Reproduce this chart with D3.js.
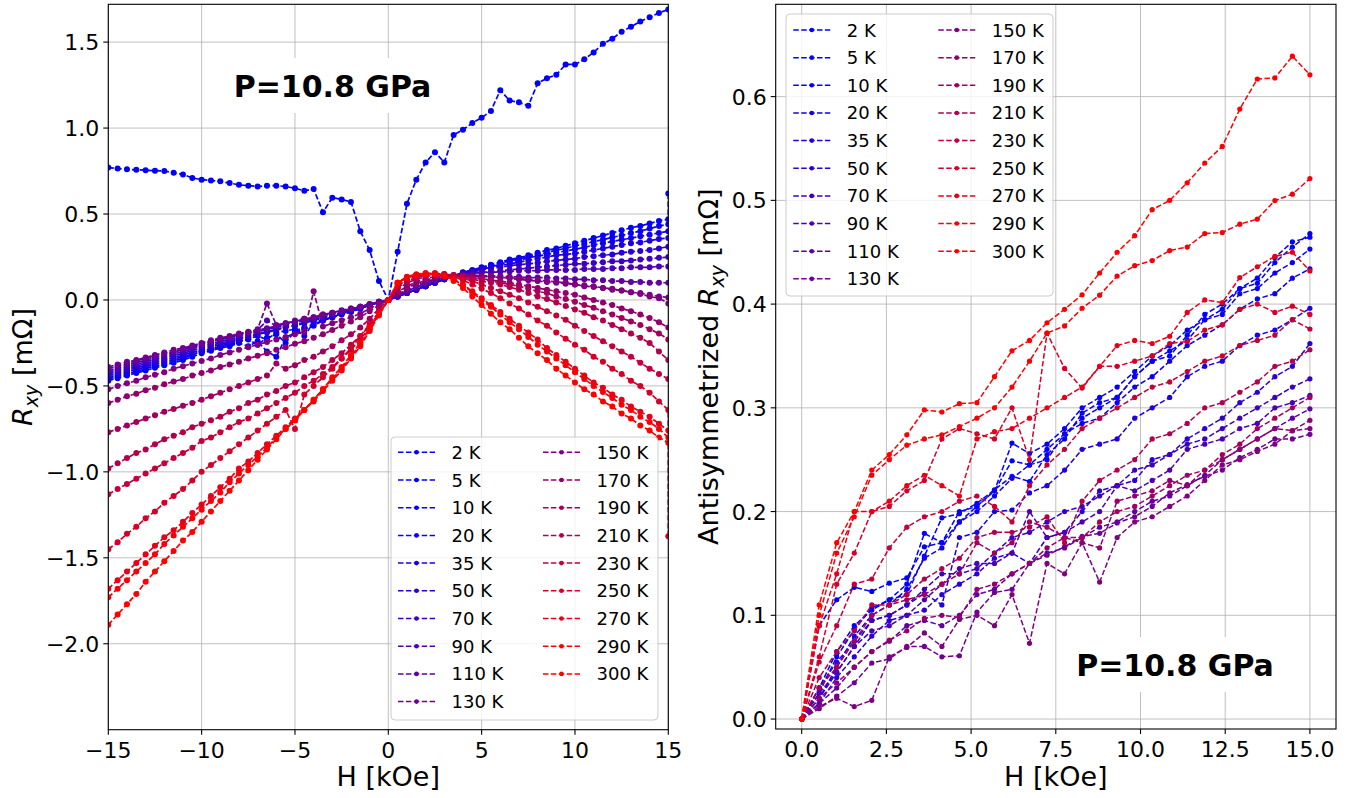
<!DOCTYPE html>
<html>
<head>
<meta charset="utf-8">
<script src="https://cdn.jsdelivr.net/npm/d3@7/dist/d3.min.js"></script>
<style>
  body { margin: 0; background: #fff; }
  svg { font-family: "DejaVu Sans", sans-serif; }
</style>
</head>
<body>
<div id="stage"></div>
<script>
// temperatures (K), one curve each
const temps = [2, 5, 10, 20, 35, 50, 70, 90, 110, 130, 150, 170, 190, 210, 230, 250, 270, 290, 300];

// left panel: field sweep H (kOe)
const fieldLeft = [-15,-14.5,-14,-13.5,-13,-12.5,-12,-11.5,-11,-10.5,-10,-9.5,-9,-8.5,-8,-7.5,-7,-6.5,-6,-5.5,-5,-4.5,-4,-3.5,-3,-2.5,-2,-1.5,-1,-0.5,
  0,0.5,1,1.5,2,2.5,3,3.5,4,4.5,5,5.5,6,6.5,7,7.5,8,8.5,9,9.5,10,10.5,11,11.5,12,12.5,13,13.5,14,14.5,15];

// R_xy (mOhm)
const rxy_2K = [0.77,0.765,0.76,0.757,0.755,0.752,0.75,0.74,0.73,0.71,0.70,0.695,0.69,0.68,0.67,0.665,0.66,0.665,0.665,0.66,0.65,0.635,0.645,0.51,0.595,0.585,0.57,0.40,0.29,0.11,
  0.0,0.28,0.56,0.70,0.80,0.86,0.80,0.96,0.99,1.03,1.06,1.10,1.22,1.16,1.15,1.13,1.26,1.29,1.31,1.37,1.37,1.40,1.44,1.49,1.52,1.56,1.59,1.62,1.645,1.67,1.69];
const rxy_5K = [-0.47,-0.455,-0.44,-0.425,-0.41,-0.395,-0.38,-0.365,-0.35,-0.33,-0.31,-0.295,-0.28,-0.27,-0.25,-0.27,-0.24,-0.30,-0.33,-0.22,-0.19,-0.17,-0.15,-0.12,-0.10,-0.085,-0.07,-0.05,-0.03,-0.015,
  0,0.02,0.04,0.06,0.08,0.10,0.12,0.14,0.16,0.175,0.19,0.205,0.22,0.235,0.245,0.26,0.275,0.29,0.30,0.315,0.33,0.345,0.36,0.375,0.39,0.405,0.42,0.43,0.445,0.46,0.47];
const rxy_10K = [-0.46,-0.445,-0.43,-0.415,-0.40,-0.385,-0.37,-0.355,-0.34,-0.32,-0.30,-0.285,-0.275,-0.26,-0.245,-0.23,-0.26,-0.22,-0.20,-0.25,-0.18,-0.16,-0.14,-0.12,-0.10,-0.08,-0.065,-0.05,-0.03,-0.015,
  0,0.02,0.04,0.06,0.08,0.10,0.12,0.14,0.16,0.17,0.185,0.20,0.215,0.225,0.24,0.25,0.265,0.275,0.29,0.30,0.315,0.325,0.34,0.35,0.365,0.375,0.39,0.40,0.415,0.43,0.44];
const rxy_20K = [-0.45,-0.435,-0.42,-0.405,-0.39,-0.375,-0.36,-0.345,-0.33,-0.315,-0.30,-0.285,-0.27,-0.25,-0.24,-0.225,-0.21,-0.23,-0.19,-0.18,-0.17,-0.21,-0.13,-0.115,-0.10,-0.08,-0.065,-0.05,-0.03,-0.015,
  0,0.02,0.04,0.06,0.08,0.10,0.12,0.14,0.16,0.17,0.18,0.19,0.21,0.22,0.23,0.245,0.255,0.265,0.275,0.285,0.295,0.305,0.32,0.33,0.34,0.35,0.36,0.37,0.38,0.39,0.40];
const rxy_35K = [-0.44,-0.425,-0.41,-0.395,-0.38,-0.365,-0.35,-0.335,-0.32,-0.305,-0.29,-0.275,-0.26,-0.245,-0.23,-0.215,-0.20,-0.19,-0.175,-0.16,-0.15,-0.135,-0.12,-0.105,-0.09,-0.075,-0.06,-0.045,-0.03,-0.015,
  0,0.02,0.04,0.06,0.08,0.10,0.12,0.14,0.155,0.165,0.175,0.19,0.20,0.21,0.22,0.23,0.24,0.25,0.26,0.265,0.27,0.28,0.29,0.30,0.31,0.32,0.33,0.335,0.345,0.355,0.36];
const rxy_50K = [-0.43,-0.415,-0.40,-0.385,-0.37,-0.355,-0.34,-0.325,-0.31,-0.295,-0.28,-0.265,-0.25,-0.24,-0.225,-0.21,-0.195,-0.185,-0.17,-0.155,-0.145,-0.13,-0.115,-0.10,-0.09,-0.075,-0.06,-0.045,-0.03,-0.015,
  0,0.02,0.04,0.06,0.08,0.10,0.12,0.14,0.155,0.165,0.175,0.185,0.19,0.20,0.205,0.21,0.215,0.225,0.23,0.235,0.24,0.25,0.255,0.26,0.265,0.275,0.28,0.285,0.29,0.30,0.31];
const rxy_70K = [-0.42,-0.405,-0.39,-0.375,-0.36,-0.345,-0.33,-0.315,-0.30,-0.285,-0.27,-0.255,-0.24,-0.23,-0.215,-0.20,-0.185,-0.17,-0.16,-0.145,-0.13,-0.12,-0.105,-0.09,-0.08,-0.065,-0.055,-0.04,-0.025,-0.01,
  0,0.025,0.045,0.07,0.09,0.11,0.13,0.14,0.15,0.155,0.16,0.165,0.17,0.175,0.18,0.185,0.19,0.195,0.20,0.205,0.21,0.21,0.215,0.22,0.225,0.225,0.23,0.235,0.24,0.245,0.25];
const rxy_90K = [-0.41,-0.395,-0.38,-0.365,-0.35,-0.335,-0.32,-0.305,-0.29,-0.275,-0.26,-0.245,-0.23,-0.22,-0.205,-0.19,-0.175,-0.12,-0.15,-0.135,-0.125,-0.11,-0.10,-0.085,-0.075,-0.06,-0.05,-0.04,-0.025,-0.01,
  0,0.025,0.05,0.075,0.095,0.115,0.13,0.14,0.15,0.155,0.16,0.16,0.165,0.165,0.17,0.17,0.17,0.175,0.175,0.175,0.175,0.18,0.18,0.18,0.185,0.185,0.19,0.19,0.19,0.195,0.195];
const rxy_110K = [-0.40,-0.385,-0.37,-0.355,-0.34,-0.325,-0.31,-0.30,-0.285,-0.27,-0.255,-0.24,-0.225,-0.215,-0.20,-0.19,-0.175,-0.165,-0.15,-0.14,-0.13,-0.115,-0.105,-0.09,-0.08,-0.065,-0.055,-0.04,-0.025,-0.01,
  0,0.03,0.055,0.08,0.10,0.12,0.135,0.14,0.145,0.145,0.14,0.14,0.14,0.135,0.135,0.13,0.13,0.13,0.125,0.125,0.12,0.12,0.115,0.115,0.11,0.11,0.105,0.105,0.10,0.10,0.10];
const rxy_130K = [-0.39,-0.375,-0.36,-0.35,-0.335,-0.32,-0.305,-0.29,-0.28,-0.265,-0.25,-0.235,-0.22,-0.21,-0.195,-0.185,-0.17,-0.02,-0.145,-0.135,-0.12,-0.11,-0.10,-0.085,-0.075,-0.065,-0.05,-0.04,-0.025,-0.01,
  0,0.03,0.06,0.085,0.105,0.12,0.135,0.14,0.14,0.14,0.135,0.135,0.13,0.125,0.12,0.115,0.11,0.105,0.10,0.095,0.09,0.08,0.075,0.07,0.06,0.055,0.045,0.04,0.03,0.02,0.015];
const rxy_150K = [-0.52,-0.50,-0.485,-0.47,-0.45,-0.435,-0.42,-0.40,-0.385,-0.37,-0.355,-0.34,-0.32,-0.305,-0.29,-0.275,-0.26,-0.245,-0.23,-0.215,-0.20,-0.185,0.05,-0.155,-0.135,-0.12,-0.10,-0.08,-0.05,-0.025,
  0,0.04,0.07,0.095,0.115,0.13,0.14,0.14,0.14,0.14,0.135,0.135,0.13,0.13,0.125,0.12,0.115,0.11,0.105,0.10,0.09,0.085,0.08,0.07,0.065,0.055,0.045,0.035,0.02,0.01,-0.02];
const rxy_170K = [-0.60,-0.58,-0.56,-0.545,-0.525,-0.51,-0.49,-0.475,-0.46,-0.44,-0.425,-0.41,-0.39,-0.375,-0.36,-0.34,-0.325,-0.31,-0.29,-0.275,-0.255,-0.24,-0.22,-0.20,-0.175,-0.15,-0.125,-0.10,-0.065,-0.03,
  0,0.045,0.08,0.105,0.125,0.135,0.14,0.14,0.135,0.13,0.125,0.115,0.11,0.10,0.09,0.08,0.07,0.06,0.05,0.04,0.03,0.015,0.0,-0.015,-0.03,-0.05,-0.065,-0.085,-0.105,-0.13,-0.16];
const rxy_190K = [-0.77,-0.75,-0.73,-0.71,-0.69,-0.67,-0.65,-0.635,-0.615,-0.60,-0.58,-0.56,-0.54,-0.52,-0.50,-0.48,-0.46,-0.44,-0.37,-0.40,-0.38,-0.35,-0.33,-0.30,-0.27,-0.235,-0.20,-0.16,-0.11,-0.05,
  0,0.06,0.10,0.12,0.135,0.145,0.15,0.145,0.14,0.13,0.12,0.11,0.10,0.09,0.08,0.065,0.05,0.04,0.02,0.005,-0.01,-0.03,-0.045,-0.065,-0.085,-0.105,-0.125,-0.145,-0.17,-0.195,-0.23];
const rxy_210K = [-0.98,-0.95,-0.92,-0.89,-0.87,-0.84,-0.81,-0.79,-0.77,-0.74,-0.72,-0.70,-0.68,-0.65,-0.63,-0.60,-0.58,-0.55,-0.53,-0.50,-0.48,-0.45,-0.42,-0.39,-0.35,-0.31,-0.26,-0.21,-0.15,-0.08,
  0,0.07,0.11,0.13,0.145,0.15,0.15,0.145,0.135,0.12,0.11,0.10,0.09,0.075,0.06,0.04,0.02,0.005,-0.015,-0.035,-0.055,-0.075,-0.10,-0.12,-0.145,-0.17,-0.195,-0.22,-0.25,-0.30,-0.35];
const rxy_230K = [-1.13,-1.10,-1.07,-1.04,-1.01,-0.98,-0.95,-0.92,-0.89,-0.86,-0.82,-0.80,-0.77,-0.74,-0.71,-0.69,-0.66,-0.63,-0.60,-0.57,-0.54,-0.50,-0.47,-0.43,-0.39,-0.34,-0.29,-0.23,-0.16,-0.08,
  0,0.08,0.12,0.14,0.15,0.155,0.15,0.14,0.125,0.11,0.09,0.07,0.05,0.03,0.01,-0.015,-0.04,-0.065,-0.09,-0.115,-0.15,-0.18,-0.21,-0.24,-0.27,-0.30,-0.33,-0.365,-0.40,-0.43,-0.46];
const rxy_250K = [-1.45,-1.41,-1.36,-1.32,-1.27,-1.23,-1.18,-1.14,-1.10,-1.05,-1.00,-0.96,-0.92,-0.88,-0.84,-0.80,-0.76,-0.72,-0.68,-0.64,-0.75,-0.55,-0.50,-0.45,-0.40,-0.34,-0.28,-0.21,-0.14,-0.07,
  0,0.09,0.13,0.145,0.155,0.155,0.15,0.135,0.115,0.09,0.065,0.04,0.01,-0.02,-0.05,-0.085,-0.12,-0.15,-0.19,-0.225,-0.26,-0.29,-0.33,-0.36,-0.40,-0.43,-0.47,-0.50,-0.54,-0.59,-0.64];
const rxy_270K = [-1.68,-1.63,-1.58,-1.53,-1.48,-1.43,-1.38,-1.34,-1.29,-1.24,-1.19,-1.14,-1.09,-1.04,-0.98,-0.94,-0.89,-0.84,-0.79,-0.74,-0.69,-0.64,-0.58,-0.52,-0.46,-0.40,-0.33,-0.26,-0.17,-0.08,
  0,0.10,0.13,0.145,0.15,0.15,0.14,0.12,0.09,0.05,0.01,-0.03,-0.07,-0.11,-0.15,-0.19,-0.23,-0.28,-0.32,-0.36,-0.40,-0.44,-0.48,-0.51,-0.55,-0.58,-0.62,-0.65,-0.68,-0.72,-0.76];
const rxy_290K = [-1.73,-1.68,-1.63,-1.58,-1.53,-1.48,-1.42,-1.37,-1.32,-1.27,-1.22,-1.17,-1.12,-1.06,-1.01,-0.96,-0.91,-0.86,-0.80,-0.75,-0.70,-0.64,-0.59,-0.53,-0.47,-0.41,-0.34,-0.27,-0.18,-0.09,
  0,0.10,0.135,0.15,0.155,0.15,0.14,0.12,0.085,0.045,0.0,-0.04,-0.085,-0.13,-0.17,-0.215,-0.26,-0.30,-0.34,-0.38,-0.42,-0.46,-0.50,-0.535,-0.57,-0.61,-0.64,-0.68,-0.71,-0.75,-0.80];
const rxy_300K = [-1.89,-1.83,-1.77,-1.71,-1.64,-1.58,-1.52,-1.46,-1.40,-1.35,-1.29,-1.23,-1.17,-1.11,-1.05,-0.99,-0.93,-0.87,-0.81,-0.75,-0.70,-0.64,-0.58,-0.52,-0.45,-0.39,-0.32,-0.25,-0.16,-0.08,
  0,0.10,0.13,0.145,0.15,0.15,0.14,0.11,0.07,0.02,-0.03,-0.08,-0.13,-0.17,-0.22,-0.27,-0.31,-0.35,-0.40,-0.44,-0.48,-0.52,-0.55,-0.59,-0.62,-0.66,-0.69,-0.73,-0.76,-0.80,-0.83];

// last reading of a sweep, taken again at +15 kOe
const endJumpTemps = [5, 250];
const endJumpValues = [0.62, -1.375];

// right panel: antisymmetrized R_xy
const fieldRight = [0,0.517,1.034,1.552,2.069,2.586,3.103,3.621,4.138,4.655,5.172,5.69,6.207,6.724,7.241,7.759,8.276,8.793,9.31,9.828,10.345,10.862,11.379,11.897,12.414,12.931,13.448,13.966,14.483,15];

const anti_2K = [0,0.09,0.115,0.127,0.123,0.131,0.136,0.166,0.17,0.19,0.205,0.22,0.249,0.245,0.26,0.275,0.29,0.30,0.31,0.33,0.345,0.35,0.37,0.39,0.40,0.415,0.42,0.44,0.455,0.468];
const anti_5K = [0,0.03,0.065,0.09,0.105,0.115,0.13,0.179,0.17,0.20,0.205,0.22,0.266,0.256,0.265,0.28,0.30,0.31,0.32,0.335,0.35,0.36,0.375,0.385,0.395,0.415,0.425,0.445,0.46,0.4645];
const anti_10K = [0,0.025,0.06,0.086,0.107,0.115,0.12,0.157,0.194,0.198,0.208,0.221,0.234,0.229,0.255,0.27,0.295,0.305,0.31,0.33,0.345,0.355,0.365,0.385,0.39,0.41,0.415,0.43,0.44,0.453];
const anti_20K = [0,0.02,0.05,0.08,0.10,0.11,0.125,0.155,0.165,0.19,0.20,0.215,0.232,0.245,0.25,0.275,0.285,0.29,0.305,0.32,0.33,0.345,0.36,0.37,0.38,0.395,0.405,0.41,0.425,0.434];
const anti_35K = [0,0.02,0.045,0.07,0.095,0.10,0.11,0.121,0.11,0.175,0.18,0.20,0.2015,0.218,0.225,0.24,0.26,0.265,0.27,0.29,0.30,0.31,0.33,0.34,0.345,0.36,0.37,0.375,0.385,0.396];
const anti_50K = [0,0.015,0.04,0.06,0.08,0.095,0.10,0.105,0.12,0.13,0.14,0.155,0.16,0.15,0.175,0.18,0.20,0.22,0.225,0.23,0.25,0.255,0.27,0.28,0.29,0.305,0.315,0.33,0.34,0.362];
const anti_70K = [0,0.03,0.055,0.075,0.095,0.10,0.11,0.125,0.14,0.14,0.145,0.16,0.175,0.18,0.19,0.20,0.205,0.215,0.225,0.24,0.245,0.255,0.265,0.27,0.28,0.29,0.30,0.31,0.32,0.328];
const anti_90K = [0,0.025,0.045,0.07,0.085,0.09,0.10,0.115,0.13,0.145,0.15,0.15,0.16,0.20,0.175,0.18,0.19,0.20,0.225,0.22,0.23,0.24,0.26,0.265,0.27,0.28,0.285,0.30,0.305,0.312];
const anti_110K = [0,0.015,0.03,0.05,0.065,0.075,0.09,0.095,0.09,0.10,0.12,0.125,0.14,0.15,0.16,0.165,0.175,0.185,0.19,0.20,0.21,0.215,0.225,0.235,0.25,0.26,0.27,0.28,0.29,0.299];
const anti_130K = [0,0.01,0.022,0.035,0.054,0.058,0.07,0.07,0.06,0.061,0.103,0.122,0.125,0.15,0.158,0.166,0.176,0.179,0.189,0.195,0.205,0.218,0.226,0.234,0.24,0.252,0.26,0.27,0.27,0.2745];
const anti_150K = [0,0.012,0.02,0.012,0.018,0.06,0.069,0.083,0.07,0.096,0.10,0.09,0.12,0.073,0.15,0.14,0.17,0.132,0.175,0.19,0.195,0.205,0.215,0.23,0.245,0.25,0.258,0.265,0.278,0.28];
const anti_170K = [0,0.02,0.035,0.05,0.065,0.076,0.085,0.097,0.10,0.098,0.125,0.13,0.14,0.15,0.165,0.175,0.17,0.165,0.21,0.215,0.22,0.23,0.225,0.24,0.25,0.26,0.27,0.28,0.278,0.288];
const anti_190K = [0,0.03,0.05,0.075,0.10,0.11,0.115,0.12,0.13,0.14,0.17,0.16,0.17,0.19,0.185,0.175,0.175,0.19,0.20,0.205,0.215,0.225,0.235,0.24,0.255,0.265,0.28,0.29,0.30,0.31];
const anti_210K = [0,0.04,0.065,0.085,0.11,0.11,0.12,0.135,0.145,0.155,0.175,0.18,0.18,0.185,0.195,0.17,0.21,0.23,0.24,0.25,0.27,0.275,0.285,0.30,0.305,0.315,0.325,0.34,0.345,0.356];
const anti_230K = [0,0.055,0.09,0.13,0.135,0.165,0.185,0.195,0.20,0.21,0.215,0.205,0.19,0.225,0.245,0.26,0.28,0.29,0.30,0.31,0.32,0.325,0.335,0.345,0.35,0.36,0.365,0.37,0.385,0.376];
const anti_250K = [0,0.06,0.13,0.16,0.20,0.205,0.22,0.23,0.27,0.28,0.275,0.27,0.30,0.25,0.372,0.338,0.319,0.34,0.34,0.345,0.35,0.362,0.364,0.375,0.38,0.395,0.40,0.392,0.398,0.39];
const anti_270K = [0,0.09,0.14,0.20,0.20,0.21,0.225,0.235,0.225,0.215,0.27,0.277,0.28,0.29,0.30,0.31,0.32,0.34,0.36,0.365,0.362,0.369,0.392,0.404,0.4015,0.4256,0.436,0.446,0.45,0.432];
const anti_290K = [0,0.10,0.16,0.195,0.235,0.25,0.264,0.27,0.274,0.282,0.29,0.30,0.32,0.345,0.372,0.379,0.396,0.4086,0.427,0.437,0.442,0.4516,0.455,0.468,0.469,0.477,0.482,0.4998,0.506,0.521];
const anti_300K = [0,0.11,0.17,0.20,0.24,0.255,0.274,0.298,0.296,0.304,0.305,0.33,0.355,0.365,0.382,0.395,0.409,0.43,0.45,0.466,0.491,0.50,0.517,0.536,0.552,0.588,0.617,0.618,0.639,0.621];

const leftSeries = [rxy_2K, rxy_5K, rxy_10K, rxy_20K, rxy_35K, rxy_50K, rxy_70K, rxy_90K, rxy_110K, rxy_130K,
  rxy_150K, rxy_170K, rxy_190K, rxy_210K, rxy_230K, rxy_250K, rxy_270K, rxy_290K, rxy_300K];
const rightSeries = [anti_2K, anti_5K, anti_10K, anti_20K, anti_35K, anti_50K, anti_70K, anti_90K, anti_110K, anti_130K,
  anti_150K, anti_170K, anti_190K, anti_210K, anti_230K, anti_250K, anti_270K, anti_290K, anti_300K];

const leftTicksX = [-15, -10, -5, 0, 5, 10, 15];
const leftTicksY = [-2.0, -1.5, -1.0, -0.5, 0.0, 0.5, 1.0, 1.5];
const rightTicksX = [0, 2.5, 5, 7.5, 10, 12.5, 15];
const rightTicksY = [0, 0.1, 0.2, 0.3, 0.4, 0.5, 0.6];

const width = 1362, height = 798;
const color = T => d3.rgb(255 * T / 300, 0, 255 * (1 - T / 300)).toString();
const minus = s => s.replace('-', '\u2212');

const svg = d3.select('#stage').append('svg')
    .attr('width', width).attr('height', height)
    .attr('viewBox', [0, 0, width, height]);

function buildSeries(field, series, extraT, extraV) {
    return temps.map((T, i) => {
        const vals = series[i];
        const pts = [];
        for (let k = 0; k < Math.min(field.length, vals.length); k++) pts.push([field[k], vals[k]]);
        const j = extraT ? extraT.indexOf(T) : -1;
        if (j >= 0) pts.push([field[field.length - 1], extraV[j]]);
        return {T, pts};
    });
}

function drawPanel(cfg) {
    const {x, y, id} = cfg;
    const [x0, x1] = x.range();
    const [y1, y0] = y.range();
    const g = svg.append('g');

    g.append('clipPath').attr('id', id)
        .append('rect').attr('x', x0).attr('y', y0).attr('width', x1 - x0).attr('height', y1 - y0);

    // grid
    g.append('g').selectAll('line').data(cfg.ticksX).join('line')
        .attr('x1', d => x(d)).attr('x2', d => x(d)).attr('y1', y0).attr('y2', y1)
        .attr('stroke', '#b0b0b0').attr('stroke-width', 0.8);
    g.append('g').selectAll('line').data(cfg.ticksY).join('line')
        .attr('y1', d => y(d)).attr('y2', d => y(d)).attr('x1', x0).attr('x2', x1)
        .attr('stroke', '#b0b0b0').attr('stroke-width', 0.8);

    // curves
    const line = d3.line().x(d => x(d[0])).y(d => y(d[1]));
    const curves = g.append('g').attr('clip-path', `url(#${id})`)
        .selectAll('g').data(cfg.data).join('g');
    curves.append('path')
        .attr('d', d => line(d.pts))
        .attr('fill', 'none')
        .attr('stroke', d => color(d.T))
        .attr('stroke-width', cfg.lineWidth)
        .attr('stroke-dasharray', '5.5,2.4');
    curves.selectAll('circle').data(d => d.pts.map(p => ({p, T: d.T}))).join('circle')
        .attr('cx', d => x(d.p[0])).attr('cy', d => y(d.p[1])).attr('r', cfg.markerR)
        .attr('fill', d => color(d.T));

    // text box
    const tb = cfg.textBox;
    g.append('rect').attr('x', tb.x).attr('y', tb.y).attr('width', tb.w).attr('height', tb.h).attr('fill', '#fff');
    g.append('text').attr('x', tb.x + tb.w / 2).attr('y', tb.y + tb.h / 2 + 11)
        .attr('text-anchor', 'middle').attr('font-size', 30).attr('font-weight', 'bold')
        .text('P=10.8 GPa');

    // spines
    g.append('rect').attr('x', x0).attr('y', y0).attr('width', x1 - x0).attr('height', y1 - y0)
        .attr('fill', 'none').attr('stroke', '#000').attr('stroke-width', 1.1);

    // ticks
    g.append('g').selectAll('line').data(cfg.ticksX).join('line')
        .attr('x1', d => x(d)).attr('x2', d => x(d)).attr('y1', y1).attr('y2', y1 + 5)
        .attr('stroke', '#000').attr('stroke-width', 1.1);
    g.append('g').selectAll('text').data(cfg.ticksX).join('text')
        .attr('x', d => x(d)).attr('y', y1 + 28).attr('text-anchor', 'middle').attr('font-size', 22)
        .text(cfg.fmtX);
    g.append('g').selectAll('line').data(cfg.ticksY).join('line')
        .attr('y1', d => y(d)).attr('y2', d => y(d)).attr('x1', x0).attr('x2', x0 - 5)
        .attr('stroke', '#000').attr('stroke-width', 1.1);
    g.append('g').selectAll('text').data(cfg.ticksY).join('text')
        .attr('x', x0 - 9).attr('y', d => y(d) + 8).attr('text-anchor', 'end').attr('font-size', 22)
        .text(cfg.fmtY);

    // axis labels
    g.append('text').attr('x', (x0 + x1) / 2).attr('y', 786).attr('text-anchor', 'middle')
        .attr('font-size', 27).text('H [kOe]');
    const yl = g.append('text').attr('transform', `translate(${cfg.ylabelX},${(y0 + y1) / 2}) rotate(-90)`)
        .attr('text-anchor', 'middle').attr('font-size', 27);
    if (cfg.ylabelPrefix) yl.append('tspan').text(cfg.ylabelPrefix);
    yl.append('tspan').attr('font-style', 'italic').text('R');
    yl.append('tspan').attr('font-style', 'italic').attr('font-size', 19).attr('dy', 6).text('xy');
    yl.append('tspan').attr('dy', -6).text(' [m\u03A9]');

    // legend
    const L = cfg.legend;
    const lg = g.append('g');
    lg.append('rect').attr('x', L.x).attr('y', L.y).attr('width', L.w).attr('height', L.h)
        .attr('rx', 4).attr('fill', '#fff').attr('fill-opacity', 0.8)
        .attr('stroke', '#cccccc').attr('stroke-width', 1);
    const items = lg.selectAll('g').data(temps).join('g')
        .attr('transform', (T, i) => {
            const col = i < 10 ? 0 : 1, row = i < 10 ? i : i - 10;
            return `translate(${L.colX[col]},${L.rowY + row * L.rowStep})`;
        });
    items.append('line').attr('x1', 0).attr('x2', 37).attr('y1', 0).attr('y2', 0)
        .attr('stroke', T => color(T)).attr('stroke-width', 1.5).attr('stroke-dasharray', '5.5,2.4');
    items.append('circle').attr('cx', 18.5).attr('cy', 0).attr('r', 2.3).attr('fill', T => color(T));
    items.append('text').attr('x', 53.5).attr('y', 6.5).attr('font-size', 18).text(T => `${T} K`);
}

// left panel
drawPanel({
    id: 'clipL',
    x: d3.scaleLinear([-15, 15], [108.3, 668.3]),
    y: d3.scaleLinear([-2.5, 1.72], [729.7, 4.3]),
    data: buildSeries(fieldLeft, leftSeries, endJumpTemps, endJumpValues),
    ticksX: leftTicksX, ticksY: leftTicksY,
    fmtX: d => minus(d3.format('d')(d)),
    fmtY: d => minus(d3.format('.1f')(d)),
    lineWidth: 1.7, markerR: 3.0,
    textBox: {x: 222, y: 58, w: 221, h: 55},
    ylabelX: 32,
    legend: {x: 391, y: 437, w: 267, h: 283, colX: [398, 543], rowY: 452.3, rowStep: 27.7}
});

// right panel
drawPanel({
    id: 'clipR',
    x: d3.scaleLinear([-0.767, 15.77], [775.7, 1336]),
    y: d3.scaleLinear([-0.0096, 0.689], [729, 4.3]),
    data: buildSeries(fieldRight, rightSeries),
    ticksX: rightTicksX, ticksY: rightTicksY,
    fmtX: d => d3.format('.1f')(d),
    fmtY: d => d3.format('.1f')(d),
    lineWidth: 1.5, markerR: 2.6,
    textBox: {x: 1065, y: 637, w: 220, h: 55},
    ylabelX: 718,
    ylabelPrefix: 'Antisymmetrized ',
    legend: {x: 786, y: 14, w: 267, h: 282, colX: [793.3, 938.3], rowY: 30, rowStep: 27.65}
});
</script>
</body>
</html>
